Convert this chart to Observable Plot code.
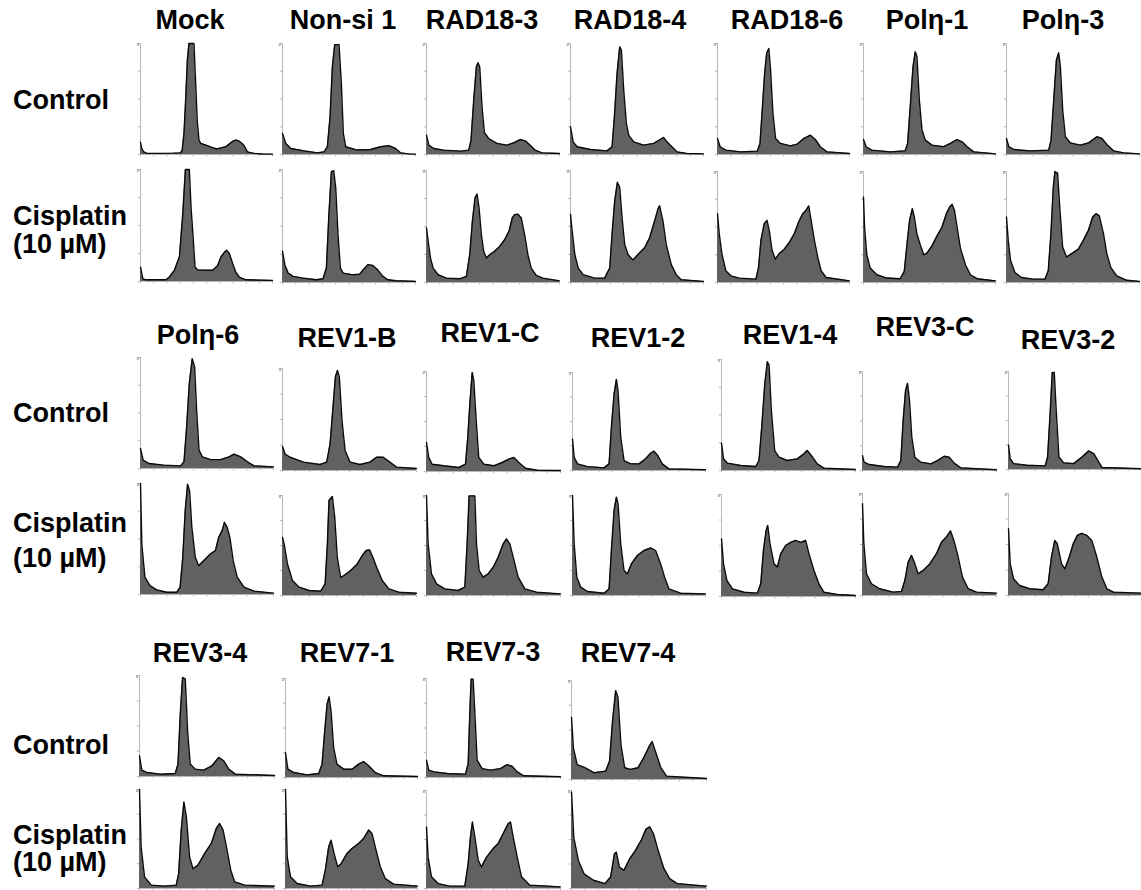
<!DOCTYPE html>
<html><head><meta charset="utf-8">
<script src="https://cdn.jsdelivr.net/npm/d3@7"></script>
<script src="https://cdn.jsdelivr.net/npm/@observablehq/plot@0.6"></script>
<style>
body{margin:0;background:#fff;}
#fig{position:relative;width:1141px;height:890px;overflow:hidden;font-family:"Liberation Sans",Arial,sans-serif;font-weight:bold;color:#000;}
.t{position:absolute;font-size:27px;white-space:nowrap;transform:translate(-50%,-50%);line-height:1}
.r{position:absolute;font-size:27px;white-space:nowrap;transform:translateY(-50%);line-height:1}
.p{position:absolute}
</style></head><body><div id="fig"></div><script>
// ---- labels ----
const titlesBlock1 = ["Mock","Non-si 1","RAD18-3","RAD18-4","RAD18-6","Polη-1","Polη-3"];
const titlesBlock2 = ["Polη-6","REV1-B","REV1-C","REV1-2","REV1-4","REV3-C","REV3-2"];
const titlesBlock3 = ["REV3-4","REV7-1","REV7-3","REV7-4"];
const rowLabels = ["Control","Cisplatin","(10 µM)"];
const yTicks = [0,25,50,75,100];
const xTicks = [0,10,20,30,40,50,60,70,80,90,100];

// ---- histograms: [DNA content % of range, count % of axis max] ----
const mockCtrl = [[0,11],[1,5],[2.5,2.4],[5,1],[15,1],[25,1.2],[30.4,1.5],[31.6,4],[33,20],[34.2,49],[35.5,85],[36.7,100],[40.5,100],[41.8,64],[43,30],[44.3,13],[45.6,10],[48,9],[50.6,8],[55,6],[58.2,5],[61,6],[64.6,7],[68.4,10.5],[70,12],[72.2,13],[74,12.5],[75.9,11],[78.5,8],[81,2.4],[86,1],[92,0.5],[100,0.3]];
const mockCis = [[0,12.8],[1.8,2.4],[4.3,1.5],[19.4,1.5],[21.9,4],[25.7,10],[29.5,22],[32,60],[34,100],[37,100],[38.3,66],[40,37],[41.3,13],[43.3,10.4],[49.6,10],[54.7,10],[58.4,14],[61,22],[63.5,26],[65.2,28],[67.3,25],[69.8,16],[72.3,8],[74.8,4],[79.8,1.5],[100,1]];
const nonsiCtrl = [[0,19],[2.5,10],[6.25,5.4],[16.25,3.3],[26.25,1.5],[31.25,2.4],[33.75,7],[35.75,34],[37.5,79],[39.25,99],[42.5,99],[44.25,64],[45.75,19],[47.5,7],[56.25,4],[66.25,4.5],[73.75,7],[80,8],[85,5.4],[88.75,1.5],[96.25,0.3],[100,0.3]];
const nonsiCis = [[0,27.7],[1.75,15.8],[4.25,8.3],[8,5.4],[15.5,3.9],[25.5,2.4],[30.5,3.3],[33,12.8],[34.75,57],[36.75,98],[38.5,99],[40,84],[41.75,42],[43.5,13],[45.5,8.3],[53,6.8],[58,7.4],[60.5,11],[64.25,15.8],[68,15],[71.75,11],[75.5,5.4],[79.25,2.4],[85.5,1.5],[100,1]];
const rad3Ctrl = [[0,17.4],[1.75,8.4],[5.5,5.4],[13,3.9],[25.5,3],[31.75,3.9],[33.5,13],[35.5,49],[37.5,79],[38.75,82.6],[40,79],[41.75,43],[43.5,20],[46.75,14.4],[53,10],[60.5,8.4],[65.5,10.5],[70.5,13.5],[74.25,12.3],[78,8.4],[81.75,3.9],[86.75,1.5],[100,0.9]];
const rad3Cis = [[0,48.7],[1.25,36.7],[3,21.8],[5,12.8],[8.75,6.9],[15,3.9],[25,3.3],[30,5.4],[32.5,24.8],[34.5,54.6],[36.5,75.5],[38,79],[39.5,66.6],[41.25,42.7],[43,27.8],[45,21.8],[47.5,24.8],[51.25,27.8],[55,32.2],[58.75,38.2],[62,45.7],[64.5,57.6],[66.25,60.6],[68.75,61],[71.25,57.6],[73.75,42.7],[76.25,24.8],[78.75,12.8],[82.5,6.3],[87.5,3.9],[100,1.5]];
const rad4Ctrl = [[0,25],[2,11.4],[5,7],[15,4.5],[27.5,3.3],[31.25,7],[33,34],[35,73],[37,97],[38.25,94],[40,58],[42,28],[43.75,17.4],[47.5,11.4],[55,8.4],[62.5,10],[67.5,13.5],[70,15.3],[72.5,11.4],[76.25,7],[80,2.4],[87.5,0.9],[100,0.6]];
const rad4Cis = [[0,61],[1.25,46],[3.25,25],[5.75,13],[9.5,7],[18.25,3.9],[25.75,3.9],[29.5,13],[31.25,43],[33.25,73],[35.25,89.5],[37,85],[38.75,58],[40.75,34],[43.25,25],[47,20],[50.75,25],[55.75,31],[59.5,40],[63.25,55],[65.75,65.5],[67,68.5],[69.5,55],[72,34],[75.75,16],[79.5,7],[83.25,2.4],[100,1]];
const rad6Ctrl = [[0,14.4],[2,7],[6.3,3.9],[17.6,2.4],[30.2,3],[32.2,10],[33.9,40],[35.7,73],[37.2,91],[38.9,95.5],[40.2,76],[42,37],[44,14.4],[47.7,10],[55.3,7.8],[60.3,9.3],[65.3,14.4],[70.4,17.4],[74.1,13.5],[77.9,7],[82.9,2.4],[100,0.9]];
const rad6Cis = [[0,62],[1.3,44],[3.3,26],[6.3,10.6],[10.1,6],[16.5,3.9],[29.1,3],[31.1,13.6],[32.9,38],[35.4,53],[37.5,56],[39.2,47],[41.3,29],[43.8,21],[46.8,26],[50.6,30],[54.4,36],[58.2,44],[61.5,54.5],[64.6,62],[67.1,65],[69.1,69],[70.9,56],[73.4,38],[75.9,23],[78.5,10.6],[82.3,4.5],[100,1.5]];
const pol1Ctrl = [[0,13.5],[2,7],[6.3,3.9],[20.3,2.4],[31.6,3.3],[33.4,10],[35.4,43],[37.5,79],[39.2,92.5],[40.5,88],[42.3,49],[44.3,22],[46.8,13],[51.9,8.4],[60.8,7],[65.8,10],[70.9,13.5],[74.7,11.4],[78.5,7],[83.5,2.4],[100,0.6]];
const pol1Cis = [[0,77],[0.8,50],[2.5,25],[5.1,13],[10.1,7],[17.7,4],[27.8,3.4],[30.9,10],[32.9,34],[34.9,56],[37,66.5],[38.5,59],[40.5,43.6],[43,34],[45.6,25],[48.1,26.5],[51.9,33],[55.7,42],[59.5,50],[62.8,62],[65.3,68],[67.1,70.4],[68.9,65],[70.9,50],[73.4,31],[77.2,16],[81,7],[86.1,3.4],[100,1.5]];
const pol3Ctrl = [[0,14.4],[1.75,7],[5.5,4.5],[18,3.3],[31.75,3.9],[33.5,13],[35.5,49],[37.5,85],[39.25,91.6],[40.5,79],[42.25,40],[44.25,16],[48,10.5],[55.5,8.4],[61.75,10.5],[68,16],[71.75,14.4],[76,8.4],[80.5,3.3],[88,1.5],[100,0.6]];
const pol3Cis = [[0,59],[1.3,38],[3,20],[6.3,9],[11.3,4.5],[20.1,3],[28.9,3],[31.4,10.6],[33.4,44],[35.2,86],[36.4,100],[38.4,98.5],[40.2,65],[42.2,32],[45.2,23],[49,26],[54,30],[57.8,38],[61.6,47],[64.8,59],[67.3,62],[69.8,60],[72.9,44],[75.4,26],[78.4,13.6],[82.9,6],[90.5,2],[100,1]];
const pol6Ctrl = [[0,18],[2,7.5],[6.3,4.5],[17.6,3],[30.2,2.4],[32.7,6],[34.7,37.5],[36.7,76.6],[38.9,99],[40.7,91.6],[42.2,52.5],[44,16.5],[46.5,10.5],[52.8,8],[60.3,8],[66.6,10.5],[70.4,13],[75.4,10.5],[80.4,6],[85.4,2.4],[100,1.5]];
const pol6Cis = [[0,100],[1,45.5],[3.3,15.6],[7.1,8],[12.1,4.2],[19.7,2],[27.3,2],[29.8,6.6],[31.8,33.5],[33.6,75.5],[35.4,99.4],[36.9,93.4],[38.6,60.5],[41.2,33.5],[43.7,26],[47.5,30.5],[52.5,36.5],[56.3,39.5],[58.8,51.5],[61.4,57.5],[63.1,65],[65.2,60.5],[67.2,51.5],[69.7,30.5],[72.7,15.6],[77.8,6.6],[85.4,3],[100,1.2]];
const rev1bCtrl = [[0,23.6],[2,16],[5.7,13],[15.6,8.2],[28,5.9],[33,8.2],[35.5,26],[37.5,59],[39.5,92],[41,98],[42.4,92],[44.4,49],[46.7,19.7],[50.4,8.2],[57.8,5.9],[65.3,8.2],[70.2,13],[75.2,13],[80.1,8.2],[85.1,3.3],[100,2]];
const rev1bCis = [[0,58],[1.2,51.6],[3.7,31.6],[7.4,15],[12.4,8.3],[19.9,5],[28.5,4.3],[31.8,11.6],[33.5,51.6],[34.7,95],[37.2,99],[39,78],[40.9,38],[43.4,18],[45.9,20],[50.9,25],[55.8,31.6],[59.6,40],[62.5,45],[65,45.6],[67.5,38],[70.7,26.6],[74.4,15],[79.4,6.6],[86.8,3.3],[100,2.3]];
const rev1cCtrl = [[0,29],[1.7,14],[4.2,7.3],[12.9,5.7],[24.1,4],[29.1,7.3],[30.8,34],[32.3,67],[34.1,99],[35.3,90.6],[37.1,50.6],[39,14],[42.8,7.3],[50.2,5.7],[56.5,9],[61.4,12.3],[65.2,14],[68.9,9],[73.9,3.3],[82.6,1.3],[100,1]];
const rev1cCis = [[0,100],[1.2,51.6],[3.7,21.6],[7.5,11.6],[13.7,6.6],[23.6,5],[28.6,8.3],[30.3,51.6],[31.8,99.6],[36.1,99.6],[37.3,51.6],[39.3,25],[42.3,18.3],[46,21.6],[49.8,28.3],[53.5,38.3],[57.2,51.6],[59.7,56.6],[62.2,51.6],[64.7,38.3],[68.4,18.3],[73.4,6.6],[82.1,3.3],[100,1.6]];
const rev12Ctrl = [[0,32],[1.25,13.5],[3.75,6.8],[11.25,4],[23.75,2.7],[27.5,6.8],[29.25,44],[31.25,78],[33,93],[34.25,81],[36.25,34],[38.75,10],[43.75,6.8],[50,6.8],[55,12],[58.75,17.6],[61.25,19.7],[64.25,15],[67.5,6.8],[72.5,1.7],[100,0.7]];
const rev12Cis = [[0,100],[1.25,51.6],[3.25,18.3],[6.25,8.3],[11.25,4],[23.75,2.3],[27.5,6.6],[29.25,45],[31.25,85],[33,98.3],[34.25,91.6],[36.25,51.6],[38.75,25],[41.25,21.6],[44.25,31.6],[48.75,40],[53.75,45],[58.75,47.6],[62.5,45],[66.25,31.6],[69.25,18.3],[72.5,6.6],[81.25,2.3],[100,1.6]];
const rev14Ctrl = [[0,24.7],[1.5,10.5],[4.5,6.6],[14.4,4.5],[25.6,3.6],[28,9],[30,39],[32.3,78],[34.2,98],[35.5,95],[37.2,54],[39.7,18],[42.9,12],[49.1,9],[56.6,10.5],[61.5,15],[64,18],[67,13.5],[71.5,6],[76.4,2.1],[100,0.9]];
const rev14Cis = [[0,56.5],[1.5,32],[4,15.7],[8.2,7.5],[16.9,4.2],[26.8,3.3],[29.3,12.4],[31.3,45],[33.3,64.7],[34.5,69.6],[36.2,51.6],[39.2,32],[41.7,28.8],[44.2,41.8],[47.9,50],[51.6,53],[55.3,55],[59.1,53],[62.8,55],[65.3,41.8],[69,25.5],[72.7,12.4],[76.4,4.2],[86.4,2],[100,1]];
const rev3cCtrl = [[0,15],[1.2,8.4],[5,6],[16.2,4],[26.1,3.4],[28.6,10],[30.3,50],[32.1,80.5],[33.6,88],[35.1,70.5],[36.8,33.5],[39.1,13.4],[43.5,8.4],[51,6.7],[56,10],[61,14.4],[64.7,13.4],[68.4,7.4],[73.4,2.7],[100,0.7]];
const rev3cCis = [[0,90],[1,50.8],[3,21.3],[6.7,11.5],[12.9,6.6],[22.9,3.3],[29.1,4],[31.6,14.7],[34.1,32.8],[36.6,39.3],[39.1,31],[41.5,21.3],[45.3,24.6],[50.2,31],[55.2,41],[59,52.5],[62.7,57.4],[65.7,63.3],[68.2,54],[71.4,37.7],[74.6,18],[78.9,6.6],[85.1,3.3],[100,2.3]];
const rev32Ctrl = [[0,25],[1.3,11],[3.8,6],[13.8,4.4],[27.6,3.7],[29.4,12.8],[31.4,60],[32.9,99],[34.4,99],[35.9,60],[37.9,12.8],[41.5,6.8],[49,6],[55.3,12.8],[60.3,19],[64.1,16.2],[67.8,7.8],[70.4,2],[100,0.7]];
const rev32Cis = [[0,65.6],[1.3,31],[3.8,16.4],[8.3,9.8],[15.9,6.6],[26,5.6],[29.8,11.5],[32.3,37.7],[34.8,54],[36.6,51],[39.9,31],[42.4,26],[45.7,37.7],[48.7,50.8],[51.8,59],[55,61],[58.8,59],[62.6,54],[66.4,37.7],[70.2,18],[74,6.6],[79,3.3],[100,2.3]];
const rev34Ctrl = [[0,20.5],[1.7,6.3],[5.4,4],[15.3,2.3],[26.5,3],[28.5,12.3],[30.2,62],[31.9,98],[33.9,96.7],[35.6,45.4],[37.6,12.3],[41.3,7.3],[47.5,6.3],[53.7,10.6],[58.7,18.9],[62.4,15.6],[66.1,7.3],[71,2.3],[100,1]];
const rev34Cis = [[0,100],[1.2,42],[3.7,11.8],[8.7,3.4],[18.6,2.4],[27.2,3.4],[29,15],[30.9,59],[32.9,87.5],[34.7,72.4],[37.1,32],[39.6,20],[43.3,23.6],[48.3,35.4],[53.2,45.5],[56.9,60.6],[59.4,65.7],[61.9,59],[64.4,42],[67.6,18.5],[70.5,6.7],[78,3.4],[100,2.4]];
const rev71Ctrl = [[0,25],[1.8,8.4],[6.3,5],[16.4,2.7],[25.2,4],[27.7,13.5],[29.7,47],[31.5,74],[33,81.5],[34.5,67],[36.5,30],[39,13.5],[44.1,8.4],[50.4,8.4],[55.4,13.5],[59.2,16],[63,11.8],[68,5],[74.3,1.7],[100,1]];
const rev71Cis = [[0,100],[1.3,32],[3.8,11.8],[8.8,5],[18.9,2.4],[27.7,3.4],[30.2,18.5],[32.7,42],[34.5,48.8],[36.5,37],[39.5,22],[42.1,25],[46.6,35.4],[50.4,40.4],[55.4,45.5],[59.2,50.5],[63,59],[65.5,55.6],[68,42],[71.8,22],[75.6,10],[81.9,4.4],[100,2.4]];
const rev73Ctrl = [[0,17.5],[1.7,7.4],[5.5,5.7],[15.4,4],[29.1,3.4],[31.1,14],[32.3,64.6],[33.3,99.3],[34.8,99.3],[36.1,64.6],[37.8,17.5],[41.5,9],[47.8,7.4],[55.2,9],[60.2,13],[63.9,11.4],[67.7,5.7],[72.6,1.7],[100,0.7]];
const rev73Cis = [[0,62.7],[1.2,32],[3.7,11.9],[8.7,5],[17.4,2.4],[28.6,2.4],[31.1,25.4],[32.8,52.5],[34.3,67.8],[36.1,52.5],[38.6,28.8],[41,22],[44.8,32],[49.8,40.7],[53.5,45.8],[57.2,55.9],[60.9,66],[62.7,67.8],[64.7,52.5],[67.7,32],[70.9,11.9],[77.1,3.4],[100,1.7]];
const rev74Ctrl = [[0,62.7],[1.4,32],[4.2,15],[9.9,11.9],[16.9,6.8],[25.4,8.5],[28.2,18.6],[30.4,59],[32.7,89.8],[34.4,83],[36.6,35.6],[39.4,11.9],[43.7,10.2],[49.3,11.9],[53.5,22],[57.7,33.9],[59.7,38.3],[62.5,27],[66.2,11.9],[70.4,3.4],[100,1]];
const rev74Cis = [[0,98.6],[1.7,52],[5.1,28.6],[9.3,15],[16.3,8.4],[24.8,5],[29,11.8],[31.8,35.4],[33.2,37],[35.5,21.9],[38.9,18.5],[43.1,30.3],[47.3,38.7],[51.5,48.8],[55.2,60.6],[58,63],[60.8,55.6],[64.2,38.7],[68.5,20.2],[72.7,10],[78.3,5],[100,2.4]];

const ctrlBlock1 = [mockCtrl,nonsiCtrl,rad3Ctrl,rad4Ctrl,rad6Ctrl,pol1Ctrl,pol3Ctrl];
const cisBlock1  = [mockCis,nonsiCis,rad3Cis,rad4Cis,rad6Cis,pol1Cis,pol3Cis];
const ctrlBlock2 = [pol6Ctrl,rev1bCtrl,rev1cCtrl,rev12Ctrl,rev14Ctrl,rev3cCtrl,rev32Ctrl];
const cisBlock2  = [pol6Cis,rev1bCis,rev1cCis,rev12Cis,rev14Cis,rev3cCis,rev32Cis];
const ctrlBlock3 = [rev34Ctrl,rev71Ctrl,rev73Ctrl,rev74Ctrl];
const cisBlock3  = [rev34Cis,rev71Cis,rev73Cis,rev74Cis];

// ---- layout (page pixels) ----
const layout = [
  {titles:titlesBlock1, ctrl:ctrlBlock1, cis:cisBlock1,
   left:[140,282,426,570,717,863,1006], w:[132,133,133,133,132,132,133],
   ct:[43,43,43,43,43,43,43], cb:[154,154,154,154,154,154,154],
   st:[169,169,170,170,171,171,171], sb:[281,282,282,282,282,282,282],
   tx:[190,343,482,630,787,927,1063], ty:[20,20,20,20,20,20,20],
   ly:[100,216,244]},
  {titles:titlesBlock2, ctrl:ctrlBlock2, cis:cisBlock2,
   left:[140,282,426,572,721,862,1008], w:[133,134,134,133,134,134,133],
   ct:[357,368,371,372,359,371,371], cb:[468,470,471,470,470,470,469],
   st:[483,495,495,495,494,493,493], sb:[594,595,595,595,596,595,595],
   tx:[198,347,490,638,790,925,1068], ty:[335,338,333,338,335,327,340],
   ly:[413,523,558]},
  {titles:titlesBlock3, ctrl:ctrlBlock3, cis:cisBlock3,
   left:[139,285,426,571], w:[135,132,134,135],
   ct:[675,678,678,680], cb:[776,777,777,779],
   st:[789,789,790,790], sb:[888,888,888,888],
   tx:[200,347,493,628], ty:[653,653,652,653],
   ly:[745,835,862]}
];

const fig = document.getElementById("fig");
function addText(cls, txt, x, y){
  const d = document.createElement("div");
  d.className = cls; d.textContent = txt;
  d.style.left = x + "px"; d.style.top = y + "px";
  fig.appendChild(d);
}
const mL = 4, mR = 2, mT = 3, mB = 4;
function panel(data, left, top, w, h){
  const svg = Plot.plot({
    width: w + mL + mR, height: h + mT + mB,
    marginLeft: mL, marginRight: mR, marginTop: mT, marginBottom: mB,
    x: {domain:[0,100], axis:null},
    y: {domain:[0,100], axis:null},
    style: {background:"transparent", overflow:"visible"},
    marks: [
      Plot.ruleX([0], {y1:0, y2:100, stroke:"#b8b8b8", strokeWidth:1}),
      Plot.ruleY(yTicks, {y:d=>d, x1:-1.6, x2:0, stroke:"#b8b8b8"}),
      Plot.ruleY([0], {stroke:"#b8b8b8"}),
      Plot.ruleX(xTicks, {x:d=>d, y1:-2.2, y2:0, stroke:"#b8b8b8"}),
      Plot.text(["8"], {x:0, y:100, dx:-2.5, dy:1, fontSize:4, fill:"#999"}),
      Plot.areaY(data, {x:d=>d[0], y:d=>d[1], fill:"#616161", curve:"linear"}),
      Plot.lineY(data, {x:d=>d[0], y:d=>d[1], stroke:"#0a0a0a", strokeWidth:1.4, curve:"linear"})
    ]
  });
  svg.classList.add("p");
  svg.style.left = (left - mL) + "px";
  svg.style.top = (top - mT) + "px";
  fig.appendChild(svg);
}
for (const b of layout){
  b.titles.forEach((t,i)=>{
    addText("t", t, b.tx[i], b.ty[i]);
    panel(b.ctrl[i], b.left[i], b.ct[i], b.w[i], b.cb[i]-b.ct[i]);
    panel(b.cis[i], b.left[i], b.st[i], b.w[i], b.sb[i]-b.st[i]);
  });
  addText("r", rowLabels[0], 13, b.ly[0]);
  addText("r", rowLabels[1], 13, b.ly[1]);
  addText("r", rowLabels[2], 13, b.ly[2]);
}
</script></body></html>
